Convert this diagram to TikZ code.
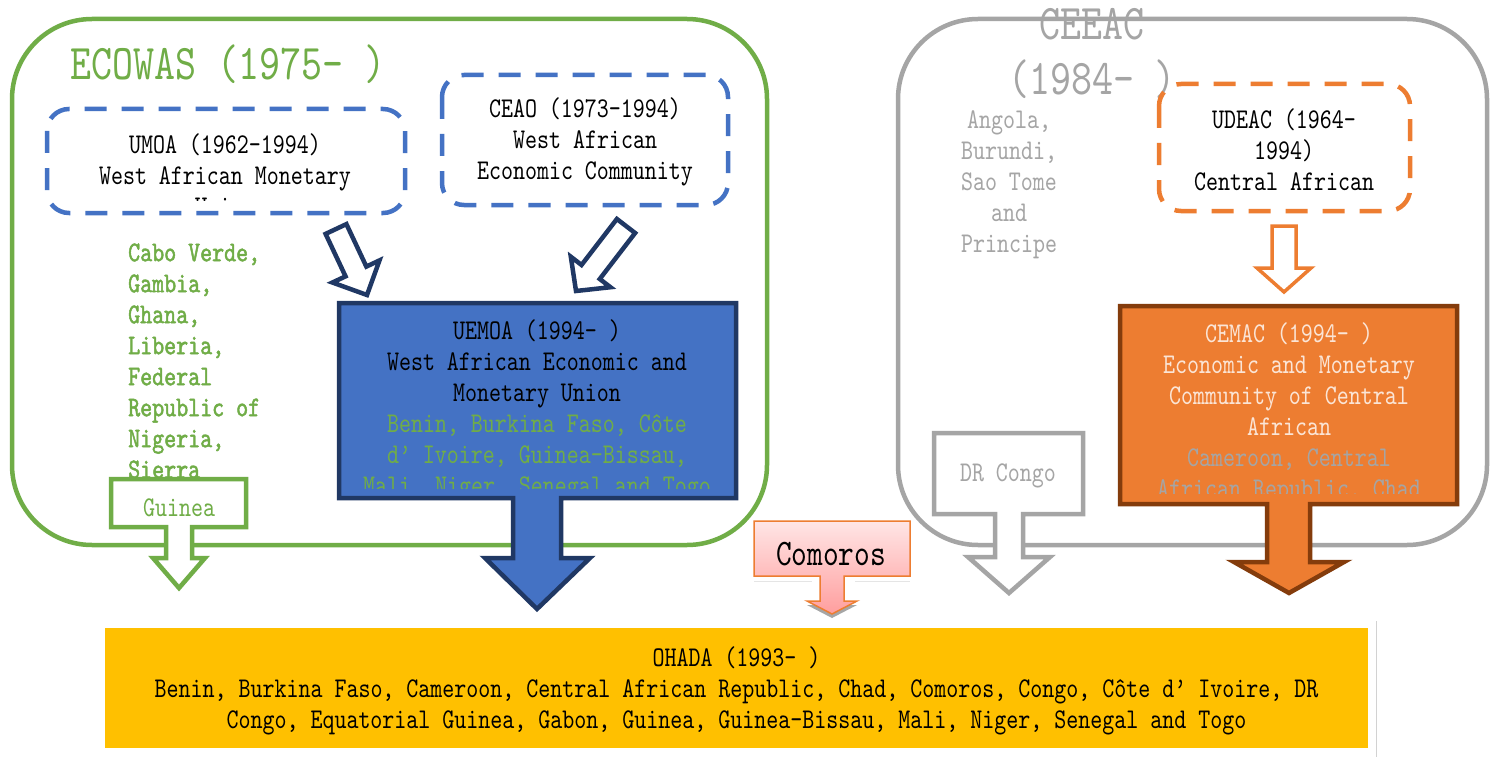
\documentclass[tikz,border=0pt]{standalone}
\usepackage{fontspec}
\newfontfamily\mono[Extension=.otf, UprightFont=lmmono10-regular, BoldFont=lmmono10-regular, BoldFeatures={FakeBold=1.6}, FakeStretch=0.8]{lmmono10-regular}
\usetikzlibrary{calc}
\definecolor{cgreen}{HTML}{70AD47}
\definecolor{cblue}{HTML}{4472C4}
\definecolor{cnavy}{HTML}{203864}
\definecolor{corange}{HTML}{ED7D31}
\definecolor{cbrown}{HTML}{843C0C}
\definecolor{cgray}{HTML}{A5A5A5}
\definecolor{cyellow}{HTML}{FFC000}
\definecolor{ccream}{HTML}{FBE5D6}
\newcommand\blockarr[6]{%
  \coordinate (ba-h) at ($(#2)!#5!(#1)$);
  \draw[#6] ($(#1)!#3!90:(#2)$) -- ($(ba-h)!#3!-90:(#1)$) -- ($(ba-h)!#4!-90:(#1)$) -- (#2)
    -- ($(ba-h)!#4!90:(#1)$) -- ($(ba-h)!#3!90:(#1)$) -- ($(#1)!#3!-90:(#2)$) -- cycle;}
\begin{document}
\begin{tikzpicture}[x=1pt,y=-1pt,
  txt/.style={font=\mono\fontsize{28.57}{31}\selectfont, align=center, inner sep=0pt},
  bigtxt/.style={font=\mono\fontsize{50}{55}\selectfont, align=center, inner sep=0pt},
  bigbox/.style={line width=4.5pt, rounded corners=80pt},
  dashbox/.style={line width=4.5pt, rounded corners=22pt, dash pattern=on 22pt off 15pt},
  callout/.style={line width=4.5pt, line join=miter},
  hollowarr/.style={line width=4.5pt, draw=cnavy, fill=white, line join=miter}]
\useasboundingbox (0,0) rectangle (1491,757);
\fill[white] (0,0) rectangle (1491,757);

% ---------- ECOWAS ----------
\draw[bigbox, cgreen] (12,19) rectangle (767,545);
\node[bigtxt, text=cgreen] (ecowasT) at (228,64) {ECOWAS (1975- )};

% UMOA
\draw[dashbox, cblue] (47,109) rectangle (405,213);
\begin{scope}
  \clip (47,109) rectangle (405,200);
  \node[txt] (umoa) at (225,175) {UMOA (1962-1994)\\West African Monetary\\Union};
\end{scope}

% CEAO
\draw[dashbox, cblue] (442,75) rectangle (728,205);
\node[txt] (ceao) at (585,142) {CEAO (1973-1994)\\West African\\Economic Community};

% green list
\node[txt, align=left, anchor=west, text=cgreen, font=\mono\bfseries\fontsize{28.57}{31}\selectfont] (ecolist) at (128,361)
  {Cabo Verde,\\Gambia,\\Ghana,\\Liberia,\\Federal\\Republic of\\Nigeria,\\Sierra};

% Guinea callout
\draw[callout, draw=cgreen, fill=white] (111,479) -- (246,479) -- (246,527) -- (192,527) -- (192,558)
  -- (205,558) -- (179,588) -- (153,558) -- (166,558) -- (166,527) -- (111,527) -- cycle;
\node[txt, text=cgreen] (guinea) at (179,508) {Guinea};

% hollow arrows into UEMOA
\coordinate (a1t) at (336,229);
\coordinate (a1p) at (367,295);
\blockarr{a1t}{a1p}{11.5pt}{26pt}{26pt}{hollowarr}
\coordinate (a2t) at (626,226);
\coordinate (a2p) at (576,291);
\blockarr{a2t}{a2p}{11.5pt}{25pt}{24pt}{hollowarr}

% UEMOA callout
\draw[callout, draw=cnavy, fill=cblue] (339,303) -- (736,303) -- (736,498) -- (561,498) -- (561,558)
  -- (590,558) -- (537,609) -- (485,558) -- (513,558) -- (513,498) -- (339,498) -- cycle;
\begin{scope}
  \clip (341,305) rectangle (734,488);
  \node[txt] (uemoa) at (537,410)
    {UEMOA (1994- )\\West African Economic and\\Monetary Union\\
     \textcolor{cgreen}{Benin, Burkina Faso, C\^ote}\\
     \textcolor{cgreen}{d’ Ivoire, Guinea-Bissau,}\\
     \textcolor{cgreen}{Mali, Niger, Senegal and Togo}};
\end{scope}

% ---------- CEEAC ----------
\draw[bigbox, cgray] (898,19) rectangle (1487,545);
\node[bigtxt, text=cgray] (ceeacT) at (1092,53) {CEEAC\\(1984- )};
\node[txt, text=cgray] (ceeaclist) at (1009,185) {Angola,\\Burundi,\\Sao Tome\\and\\Principe};

% UDEAC
\draw[dashbox, corange] (1159,84) rectangle (1410,211);
\node[txt] (udeac) at (1284,150) {UDEAC (1964-\\1994)\\Central African};

% hollow orange arrow
\draw[line width=3.5pt, draw=corange, fill=white, line join=miter] (1272,226) -- (1296,226) -- (1296,268)
  -- (1311,268) -- (1284,292) -- (1257,268) -- (1272,268) -- cycle;

% CEMAC callout
\draw[callout, draw=cbrown, fill=corange] (1120,306) -- (1457,306) -- (1457,504) -- (1310,504) -- (1310,562)
  -- (1344,562) -- (1289,593) -- (1234,562) -- (1267,562) -- (1267,504) -- (1120,504) -- cycle;
\begin{scope}
  \clip (1122,308) rectangle (1455,493);
  \node[txt, text=ccream] (cemac) at (1289,413)
    {CEMAC (1994- )\\Economic and Monetary\\Community of Central\\African\\
     \textcolor{cgray}{Cameroon, Central}\\
     \textcolor{cgray}{African Republic, Chad}};
\end{scope}

% DR Congo callout
\draw[callout, draw=cgray, fill=white] (934,433) -- (1083,433) -- (1083,514) -- (1023,514) -- (1023,557)
  -- (1050,557) -- (1009,593) -- (968,557) -- (995,557) -- (995,514) -- (934,514) -- cycle;
\node[txt, text=cgray] (drc) at (1008,476) {DR Congo};

% ---------- Comoros ----------
\fill[gray!70] (807,605) -- (857,605) -- (832,618) -- cycle;
\draw[gray!20, line width=1pt] (754,581) -- (812,581) (855,581) -- (910,581);
\shade[top color=red!10, bottom color=red!38] (754,521) -- (910,521) -- (910,576) -- (844,576) -- (844,601)
  -- (857,601) -- (832,614) -- (807,601) -- (820,601) -- (820,576) -- (754,576) -- cycle;
\draw[line width=1.5pt, draw=corange] (754,521) -- (910,521) -- (910,576) -- (844,576) -- (844,601)
  -- (857,601) -- (832,614) -- (807,601) -- (820,601) -- (820,576) -- (754,576) -- cycle;
\node[txt, font=\mono\fontsize{37.4}{40}\selectfont] (comoros) at (831,554) {Comoros};

% ---------- OHADA ----------
\fill[cyellow] (105,628) rectangle (1368,748);
\draw[gray!35, line width=1pt] (1376,621) -- (1376,757);
\node[txt] (ohada) at (736.5,691)
  {OHADA (1993- )\\
   Benin, Burkina Faso, Cameroon, Central African Republic, Chad, Comoros, Congo, C\^ote d’ Ivoire, DR\\
   Congo, Equatorial Guinea, Gabon, Guinea, Guinea-Bissau, Mali, Niger, Senegal and Togo};
\end{tikzpicture}
\end{document}
